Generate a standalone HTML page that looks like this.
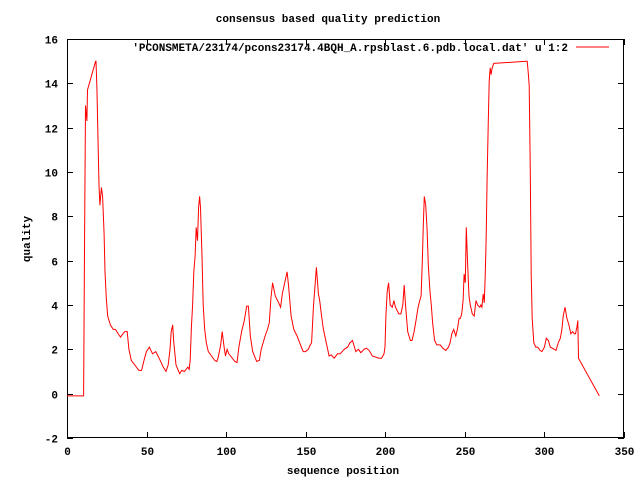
<!DOCTYPE html>
<html><head><meta charset="utf-8"><style>
body{margin:0;background:#fff}
svg text{font-family:"Liberation Mono","DejaVu Sans Mono",monospace;font-size:11px;font-weight:bold;fill:#000}
</style></head><body>
<svg id="chart" width="640" height="480" xmlns="http://www.w3.org/2000/svg">
<text x="328" y="22" text-anchor="middle">consensus based quality prediction</text>
<g id="axes"></g>
<text x="343" y="474" text-anchor="middle">sequence position</text>
<text x="0" y="0" text-anchor="middle" transform="translate(30,239) rotate(-90)">quality</text>
<g>
<text x="568" y="51" text-anchor="end">'PCONSMETA/23174/pcons23174.4BQH_A.rpsblast.6.pdb.local.dat' u 1:2</text>
<line x1="576" y1="47" x2="609" y2="47" stroke="#f00" stroke-width="1"/>
</g>
<path id="series" fill="none" stroke="#f00" stroke-width="1"/>
</svg>
<script>
const xTicks=[0,50,100,150,200,250,300,350];
const yTicks=[-2,0,2,4,6,8,10,12,14,16];
const seqX=[0,10.4,11,11.6,12.5,12.9,18,18.2,18.8,19.5,20.1,20.7,21.6,22.4,23.3,23.9,24.7,25.6,27.3,29,30.4,32.6,33.6,35.1,36.4,37.8,38.9,40.4,45.2,46.9,48.4,49.9,51.8,53.7,55.8,57.9,60.5,62.2,63.6,64.7,65.5,66.4,67,68.5,69.6,70.8,72.1,73.8,75.9,76.7,77.4,78.2,78.9,79.7,80.5,81.2,82,82.7,83.3,83.9,84.8,85.6,86.5,87.5,88.8,92.8,94.1,94.9,96.6,97.5,98.7,99.6,100.6,101.7,105.5,106.8,108,109.7,111.4,112.9,114,115.2,116.7,119.2,120.9,122,124.5,126,127.1,128.1,129.2,130.9,133,134.2,135.3,136.8,138.3,139.3,140.8,142.5,144.6,146.7,148.4,149.9,151.6,152.9,153.7,154.8,155.8,156.7,158,158.8,159.8,161.1,164.7,166,167.9,170,171.7,174.2,176.3,177.8,179.4,181.5,183.2,184.6,186.7,188.1,189.8,191.9,196,197.7,199.2,199.8,200.4,201.2,202.1,203.1,204.4,205.4,206.4,208.5,209.8,211,211.9,212.7,214.1,215.8,216.8,218.1,219.3,220.6,221.6,222.5,223.3,223.9,224.5,225.4,226.2,227,228.1,228.9,229.7,231,232.4,234.5,236.2,238,239.7,240.7,241.8,243,244.3,245.3,246.4,247.2,248,248.9,249.5,250.3,250.9,251.6,252.6,253.4,254.7,255.9,257,258,259.3,260.1,260.7,261.5,262.2,262.8,263.4,264,264.7,265.3,265.9,266.5,267.2,268.2,288.6,289.2,289.8,290.4,291.1,291.7,292.3,293.3,294.6,295.8,297.3,298.5,300,301.2,302.5,303.7,306.2,307.3,308.7,310,311,311.8,312.9,314.1,315.4,316.6,317.7,318.7,319.5,320.4,321,321.4,334.5];
const quality=[-0.1,-0.1,6.5,13,12.3,13.7,15,15,13.8,11.5,9.4,8.5,9.3,8.9,7.2,5.5,4.3,3.5,3.1,2.9,2.9,2.65,2.55,2.7,2.8,2.8,2.0,1.5,1.05,1.05,1.5,1.9,2.1,1.8,1.9,1.6,1.2,1.0,1.3,2.0,2.8,3.1,2.4,1.3,1.1,0.9,1.05,1.0,1.2,1.1,1.5,3.0,4.0,5.5,6.2,7.5,6.9,8.4,8.9,8.4,6.2,4.0,2.9,2.3,1.9,1.5,1.45,1.6,2.2,2.8,2.1,1.7,2.0,1.8,1.45,1.4,2.1,2.8,3.3,3.95,3.95,2.6,1.9,1.45,1.5,2.0,2.6,2.9,3.2,4.3,5.0,4.4,4.1,3.9,4.5,5.0,5.5,4.8,3.5,2.9,2.6,2.2,1.9,1.9,2.0,2.2,2.3,3.9,4.8,5.7,4.5,4.2,3.6,2.9,1.7,1.75,1.6,1.8,1.8,2.0,2.1,2.3,2.4,1.9,2.0,1.85,2.0,2.05,1.95,1.7,1.6,1.6,1.8,2.1,3.5,4.6,5.0,4.0,3.9,4.2,3.9,3.6,3.6,4.0,4.9,4.0,2.8,2.4,2.4,2.8,3.3,3.9,4.2,4.4,6.1,7.6,8.9,8.5,7.5,5.8,4.6,4.0,3.2,2.4,2.2,2.2,2.05,1.95,2.1,2.3,2.7,2.9,2.6,2.9,3.4,3.4,3.6,4.2,5.4,5.0,7.5,6.1,4.4,4.0,3.6,3.5,4.2,4.0,3.9,4.0,3.9,4.5,4.1,5.3,7.1,9.7,12.3,14.1,14.7,14.4,14.7,14.9,15,15,14.5,13.9,10,5.4,3.4,2.3,2.1,2.1,1.95,1.9,2.1,2.5,2.4,2.1,2.0,1.95,2.3,2.5,2.9,3.5,3.9,3.4,3.1,2.7,2.8,2.7,2.7,3.0,3.3,1.6,-0.1,-0.1];
const L=67,R=624,T=39,B=438,xMin=0,xMax=350,yMin=-2,yMax=16;
const sx=v=>L+(v-xMin)/(xMax-xMin)*(R-L);
const sy=v=>B-(v-yMin)/(yMax-yMin)*(B-T);
const NS="http://www.w3.org/2000/svg";
const ax=document.getElementById('axes');
function mk(tag,attrs){const e=document.createElementNS(NS,tag);for(const k in attrs)e.setAttribute(k,attrs[k]);ax.appendChild(e);return e;}
const fr=mk('rect',{x:L+.5,y:T+.5,width:R-L-1,height:B-T-1,fill:'none',stroke:'#000'});


xTicks.forEach(t=>{const x=Math.round(sx(t))+.5;
 const a=mk('path',{d:`M${x},${B}v-6M${x},${T}v6`,stroke:'#000'});
 
 
 const tx=mk('text',{x:x,y:B+17,'text-anchor':'middle'});tx.textContent=t;
 
 });
yTicks.forEach(t=>{const y=Math.round(sy(t))+.5;
 const a=mk('path',{d:`M${L},${y}h6M${R},${y}h-6`,stroke:'#000'});
 
 
 const tx=mk('text',{x:L-9,y:y+4,'text-anchor':'end'});tx.textContent=t;
 
 });
let d='';seqX.forEach((v,i)=>{d+=(i?'L':'M')+sx(v).toFixed(1)+','+sy(quality[i]).toFixed(1);});
document.getElementById('series').setAttribute('d',d);
</script>
</body></html>
